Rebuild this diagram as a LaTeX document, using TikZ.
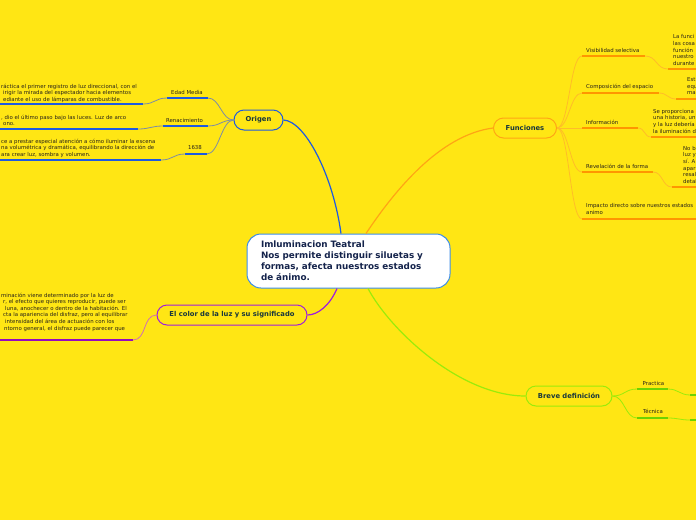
\documentclass[tikz,border=0pt]{standalone}
\usepackage{fontspec}
\setmainfont{DejaVu Sans}
\definecolor{fondo}{RGB}{255,230,20}
\definecolor{tinta}{RGB}{25,55,60}
\definecolor{marino}{RGB}{20,35,75}
\definecolor{texto}{RGB}{40,35,25}
\definecolor{azulc}{RGB}{60,140,230}
\definecolor{azul}{RGB}{30,90,225}
\definecolor{gris}{RGB}{125,140,165}
\definecolor{naranja}{RGB}{255,165,20}
\definecolor{naranjac}{RGB}{255,188,40}
\definecolor{naranjao}{RGB}{255,150,0}
\definecolor{verde}{RGB}{155,235,10}
\definecolor{verdeo}{RGB}{110,210,0}
\definecolor{morado}{RGB}{160,30,220}
\definecolor{rosa}{RGB}{210,110,180}
\definecolor{moradoo}{RGB}{150,10,190}
\begin{document}
\begin{tikzpicture}[x=1pt,y=-1pt]
	\tikzset{
		pill/.style={draw, fill=fondo, rounded corners=10pt, minimum height=20pt, inner sep=0pt, line width=1pt, text=tinta, font=\fontsize{6.8}{8}\selectfont\bfseries},
		etiq/.style={inner sep=0pt, text=texto, font=\fontsize{5.4}{6.6}\selectfont},
		parr/.style={etiq, anchor=north west, align=left},
		con/.style={line width=0.8pt},
		raya/.style={line width=1.6pt},
	}
	\useasboundingbox (0,0) rectangle (696,520);
	\fill[fondo] (0,0) rectangle (696,520);
	\clip (0,0) rectangle (696,520);
	\node[draw=azulc, fill=white, line width=1pt, rounded corners=14pt, minimum width=203pt, minimum height=54pt, text width=175pt, inner xsep=14pt, align=left, text=marino, font=\fontsize{8.8}{11}\selectfont\bfseries] (tema) at (348.5,261) {Imluminacion Teatral\\Nos permite distinguir siluetas y\\formas, afecta nuestros estados\\de ánimo.};
	\node[pill, draw=azul, minimum width=49pt] (origen) at (258.5,120) {Origen};
	\node[pill, draw=naranja, minimum width=63pt] (funciones) at (525,128) {Funciones};
	\node[pill, draw=verde, minimum width=86pt] (breve) at (569,396) {Breve definición};
	\node[pill, draw=morado, minimum width=150pt] (color) at (232,315) {El color de la luz y su significado};
	\draw[azul, line width=1.2pt] ([xshift=-7.5pt]tema.north) .. controls (333,175) and (305,121) .. (origen.east);
	\draw[naranja, line width=1.2pt] ([xshift=17.5pt]tema.north) .. controls (395,190) and (440,135) .. (funciones.west);
	\draw[verde, line width=1.2pt] ([xshift=19.5pt]tema.south) .. controls (390,330) and (460,396) .. (breve.west);
	\draw[morado, line width=1.2pt] ([xshift=-11.5pt]tema.south) .. controls (330,305) and (318,315) .. (color.east);
	% origen
	\coordinate (edad-a) at (208,98);
	\coordinate (edad-b) at (167,98);
	\coordinate (edad-c) at (143,104);
	\coordinate (edad-d) at (0,104);
	\node[etiq] (edad) at (187,92) {Edad Media};
	\draw[con, gris] (origen.west) .. controls +(-12,0) and +(12,0) .. (edad-a);
	\draw[raya, azul] (edad-a) -- (edad-b);
	\draw[con, gris] (edad-b) .. controls +(-12,0) and +(12,0) .. (edad-c);
	\draw[raya, azul] (edad-c) -- (edad-d);
	\node[parr] (edadtxt) at (1,83.5) {ráctica el primer registro de luz direccional, con el\\\hspace*{2pt}irigir la mirada del espectador hacia elementos\\\hspace*{2pt}ediante el uso de lámparas de combustible.};
	\coordinate (renac-a) at (208,126);
	\coordinate (renac-b) at (163,126);
	\coordinate (renac-c) at (138,129);
	\coordinate (renac-d) at (0,129);
	\node[etiq] (renac) at (184.5,120) {Renacimiento};
	\draw[con, gris] (origen.west) .. controls +(-12,0) and +(12,0) .. (renac-a);
	\draw[raya, azul] (renac-a) -- (renac-b);
	\draw[con, gris] (renac-b) .. controls +(-12,0) and +(12,0) .. (renac-c);
	\draw[raya, azul] (renac-c) -- (renac-d);
	\node[parr] (renactxt) at (1,114.5) {, dio el último paso bajo las luces. Luz de arco\\\hspace*{2pt}ono.};
	\coordinate (anio-a) at (207,154);
	\coordinate (anio-b) at (185,154);
	\coordinate (anio-c) at (161,160);
	\coordinate (anio-d) at (0,160);
	\node[etiq] (anio) at (195,148) {1638};
	\draw[con, gris] (origen.west) .. controls +(-12,0) and +(12,0) .. (anio-a);
	\draw[raya, azul] (anio-a) -- (anio-b);
	\draw[con, gris] (anio-b) .. controls +(-12,0) and +(12,0) .. (anio-c);
	\draw[raya, azul] (anio-c) -- (anio-d);
	\node[parr] (aniotxt) at (1,138.5) {ce a prestar especial atención a cómo iluminar la escena\\na volumétrica y dramática, equilibrando la dirección de\\ara crear luz, sombra y volumen.};
	% funciones
	\coordinate (visib-a) at (582,56);
	\coordinate (visib-b) at (645,56);
	\coordinate (visib-c) at (668,69);
	\coordinate (visib-d) at (696,69);
	\node[etiq, anchor=west] (visib) at (586,50) {Visibilidad selectiva};
	\draw[con, naranjac] (funciones.east) .. controls +(12,0) and +(-12,0) .. (visib-a);
	\draw[raya, naranjao] (visib-a) -- (visib-b);
	\draw[con, naranjac] (visib-b) .. controls +(12,0) and +(-12,0) .. (visib-c);
	\draw[raya, naranjao] (visib-c) -- (visib-d);
	\node[parr] (visibtxt) at (673,34.5) {La funci\\las cosa\\función\\nuestro\\durante};
	\coordinate (compo-a) at (582,93);
	\coordinate (compo-b) at (659,93);
	\coordinate (compo-c) at (676,99);
	\coordinate (compo-d) at (696,99);
	\node[etiq, anchor=west] (compo) at (586,87) {Composición del espacio};
	\draw[con, naranjac] (funciones.east) .. controls +(12,0) and +(-12,0) .. (compo-a);
	\draw[raya, naranjao] (compo-a) -- (compo-b);
	\draw[con, naranjac] (compo-b) .. controls +(8,0) and +(-8,0) .. (compo-c);
	\draw[raya, naranjao] (compo-c) -- (compo-d);
	\node[parr] (compotxt) at (687,77.5) {Est\\equ\\ma};
	\coordinate (info-a) at (582,128);
	\coordinate (info-b) at (638,128);
	\coordinate (info-c) at (651,137);
	\coordinate (info-d) at (696,137);
	\node[etiq, anchor=west] (info) at (586,122) {Información};
	\draw[con, naranjac] (funciones.east) .. controls +(12,0) and +(-12,0) .. (info-a);
	\draw[raya, naranjao] (info-a) -- (info-b);
	\draw[con, naranjac] (info-b) .. controls +(7,0) and +(-7,0) .. (info-c);
	\draw[raya, naranjao] (info-c) -- (info-d);
	\node[parr] (infotxt) at (653,109) {Se proporciona\\una historia, un\\y la luz debería\\la iluminación d};
	\coordinate (revel-a) at (582,172);
	\coordinate (revel-b) at (653,172);
	\coordinate (revel-c) at (672,187);
	\coordinate (revel-d) at (696,187);
	\node[etiq, anchor=west] (revel) at (586,166) {Revelación de la forma};
	\draw[con, naranjac] (funciones.east) .. controls +(12,0) and +(-12,0) .. (revel-a);
	\draw[raya, naranjao] (revel-a) -- (revel-b);
	\draw[con, naranjac] (revel-b) .. controls +(10,0) and +(-10,0) .. (revel-c);
	\draw[raya, naranjao] (revel-c) -- (revel-d);
	\node[parr] (reveltxt) at (683,146) {No b\\luz y\\sí. A\\apar\\resal\\detal};
	\coordinate (impac-a) at (582,219);
	\coordinate (impac-b) at (696,219);
	\node[parr] (impac) at (586,203.5) {Impacto directo sobre nuestros estados\\animo};
	\draw[con, naranjac] (funciones.east) .. controls +(12,0) and +(-12,0) .. (impac-a);
	\draw[raya, naranjao] (impac-a) -- (impac-b);
	% breve definicion
	\coordinate (pract-a) at (637,389);
	\coordinate (pract-b) at (668,389);
	\coordinate (pract-c) at (690,395);
	\coordinate (pract-d) at (696,395);
	\node[etiq] (pract) at (653.5,383) {Practica};
	\draw[con, verde] (breve.east) .. controls +(12,0) and +(-12,0) .. (pract-a);
	\draw[raya, verdeo] (pract-a) -- (pract-b);
	\draw[con, verde] (pract-b) .. controls +(10,0) and +(-10,0) .. (pract-c);
	\draw[raya, verdeo] (pract-c) -- (pract-d);
	\coordinate (tecn-a) at (637,418);
	\coordinate (tecn-b) at (668,418);
	\coordinate (tecn-c) at (690,420);
	\coordinate (tecn-d) at (696,420);
	\node[etiq] (tecn) at (653,411) {Técnica};
	\draw[con, verde] (breve.east) .. controls +(12,0) and +(-12,0) .. (tecn-a);
	\draw[raya, verdeo] (tecn-a) -- (tecn-b);
	\draw[con, verde] (tecn-b) .. controls +(10,0) and +(-10,0) .. (tecn-c);
	\draw[raya, verdeo] (tecn-c) -- (tecn-d);
	% color
	\coordinate (color-c) at (133,340);
	\coordinate (color-d) at (0,340);
	\draw[con, rosa] (color.west) .. controls +(-14,0) and +(14,0) .. (color-c);
	\draw[raya, moradoo] (color-c) -- (color-d);
	\node[parr] (colortxt) at (1,292.5) {minación viene determinado por la luz de\\\hspace*{2pt}r, el efecto que quieres reproducir, puede ser\\\hspace*{4pt}luna, anochecer o dentro de la habitación. El\\\hspace*{2pt}cta la apariencia del disfraz, pero al equilibrar\\\hspace*{4pt}intensidad del área de actuación con los\\\hspace*{3pt}ntorno general, el disfraz puede parecer que};
\end{tikzpicture}
\end{document}
